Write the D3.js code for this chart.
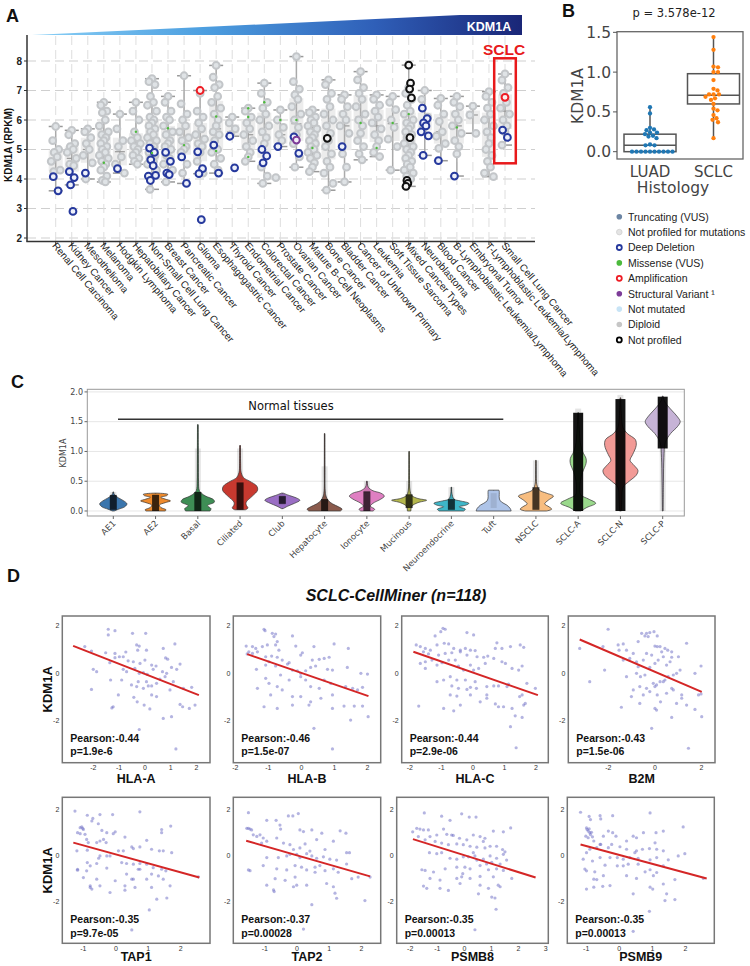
<!DOCTYPE html>
<html><head><meta charset="utf-8">
<script src="https://cdn.jsdelivr.net/npm/d3@7"></script>
<style>
body{margin:0;background:#fff;}
svg{display:block;font-family:"Liberation Sans",Arial,sans-serif;}
.mpl{font-family:"DejaVu Sans",sans-serif;}
</style>
</head><body>
<svg id="fig" width="750" height="966"></svg>
<script>
// ================= DATA =================
// Panel A
const catA = ["Renal Cell Carcinoma","Kidney Cancer","Mesothelioma","Melanoma","Hodgkin Lymphoma","Hepatobiliary Cancer","Non-Small Cell Lung Cancer","Breast Cancer","Pancreatic Cancer","Glioma","Esophagogastric Cancer","Thyroid Cancer","Endometrial Cancer","Colorectal Cancer","Prostate Cancer","Ovarian Cancer","Mature B-Cell Neoplasms","Bone Cancer","Bladder Cancer","Cancer of Unknown Primary","Leukemia","Soft Tissue Sarcoma","Mixed Cancer Types","Neuroblastoma","Blood Cancer","B-Lymphoblastic Leukemia/Lymphoma","Embryonal Tumor","T-Lymphoblastic Leukemia/Lymphoma","Small Cell Lung Cancer"];
const diploidA = [
 [5.78,5.3,5.0,4.9,4.75,4.6,4.3,4.25],
 [5.65,5.5,5.2,5.1,5.0,4.9,4.7,4.5,4.45],
 [5.7,5.6,5.4,5.2,5.0,4.8,4.55,4.0],
 [6.6,6.5,6.3,6.25,6.0,5.8,5.6,5.5,5.4,5.3,5.2,5.1,5.0,4.9,4.8,4.7,4.6,4.5,4.4,4.3,4.1,3.95,3.9],
 [6.2,5.7,5.3,5.1,4.75,4.5,4.2],
 [6.6,6.3,6.0,5.6,5.4,5.3,5.2,5.1,5.0,4.9,4.8,4.7,4.6,4.5],
 [7.4,7.3,7.2,6.8,6.6,6.5,6.3,6.1,6.0,5.9,5.8,5.7,5.6,5.5,5.4,5.3,5.2,5.1,5.0,4.9,4.8,4.7,4.6,4.5,4.3,3.65],
 [6.8,6.6,6.3,6.1,6.0,5.8,5.6,5.5,5.3,5.2,5.1,5.0,4.8,4.7,4.5,4.3,3.9],
 [7.5,6.55,6.2,6.0,5.8,5.6,5.4,5.3,5.1,5.0,4.9,4.5,4.2],
 [6.9,6.3,6.1,5.9,5.7,5.5,5.35,5.2,5.1,4.9,4.6,4.2],
 [7.85,7.45,7.2,7.1,6.8,6.6,6.4,6.2,6.0,5.8,5.6,5.5,5.3,5.0,4.9,4.7,4.5,4.3],
 [6.1,5.9,5.7,5.5],
 [6.4,6.3,6.1,5.9,5.7,5.5,5.3,5.1,4.9,4.75,4.6],
 [7.25,6.9,6.6,6.4,6.2,6.0,5.8,5.6,5.4,5.2,4.4,4.1,3.85],
 [6.34,6.0,5.75,5.5,5.3,4.05],
 [8.15,7.3,7.05,6.85,6.7,6.45,6.2,6.0,5.75,5.5,5.2,4.75,4.4],
 [6.34,6.25,6.1,6.0,5.9,5.8,5.7,5.6,5.5,5.4,5.3,5.2,5.1,5.0,4.9,4.8,4.7,4.55,4.4,4.25],
 [7.36,7.2,6.9,6.7,6.45,6.2,6.0,5.8,5.55,5.3,5.1,4.85,4.6,4.4,4.2,3.85,3.62],
 [6.85,6.7,6.45,6.2,6.0,5.8,5.55,4.85,4.4,3.9],
 [7.64,7.36,7.1,6.9,6.7,6.45,6.2,6.0,5.8,5.55,5.3,5.1,4.85,4.65],
 [6.85,6.7,6.5,6.3,6.1,5.9,5.7,5.5,5.3,5.1,4.9,4.76],
 [6.8,6.6,6.35,6.0,5.75,5.35,5.1,4.3],
 [7.1,6.9,6.7,6.5,6.3,6.2,6.0,5.9,5.8,5.7,5.6,5.5,5.4,5.3,5.2,5.1,5.0,4.9,4.8,4.7,4.6,4.5,4.4,4.3,4.2,4.1,4.0],
 [7.0,6.7,6.1,5.7],
 [6.73,6.5,6.2,5.95,5.6,5.45,5.2,5.04],
 [6.8,6.6,6.45,6.2,6.0,5.8,5.55,5.3,5.1,4.85],
 [6.47,6.17,5.55],
 [6.96,6.8,6.6,6.4,6.2,6.0,5.8,5.6,5.4,5.2,5.0,4.8,4.6,4.4,4.2,4.08],
 [7.56,7.35,7.1,6.9,6.6,6.4,6.2,6.0,5.8,5.6,5.15]
];
const deepDelA = [[4.08,3.6],[4.25,4.05,3.8,2.9],[4.2],[],[4.35],[],[5.05,4.9,4.65,4.45,4.1,4.12,3.95],[4.9,4.6,4.2,4.15],[4.75,3.85],[4.92,4.35,4.18,2.62],[5.15,4.2],[5.45,4.38],[],[5.0,4.78,4.55],[5.1],[5.43,4.87],[],[],[5.1],[],[],[],[],[6.4,6.05,5.9,5.8,5.6,5.46,4.8],[4.62],[4.1],[],[],[5.66,5.41]];
const ampA = [["Glioma",7.0],["Small Cell Lung Cancer",6.77]];
const structA = [["Ovarian Cancer",5.32]];
const notProfA = [["Mixed Cancer Types",7.86],["Mixed Cancer Types",7.25],["Mixed Cancer Types",7.05],["Mixed Cancer Types",6.75],["Mixed Cancer Types",5.4],["Mixed Cancer Types",3.95],["Mixed Cancer Types",3.85],["Mixed Cancer Types",3.75],["Bone Cancer",5.38]];
const missenseA = [["Melanoma",4.55],["Hepatobiliary Cancer",5.6],["Non-Small Cell Lung Cancer",4.88],["Breast Cancer",5.72],["Pancreatic Cancer",5.15],["Esophagogastric Cancer",6.12],["Esophagogastric Cancer",4.95],["Endometrial Cancer",6.4],["Endometrial Cancer",6.1],["Endometrial Cancer",4.75],["Colorectal Cancer",6.6],["Prostate Cancer",6.0],["Ovarian Cancer",6.0],["Mature B-Cell Neoplasms",5.05],["Cancer of Unknown Primary",5.9],["Leukemia",5.05],["Soft Tissue Sarcoma",5.9],["Mixed Cancer Types",6.2],["B-Lymphoblastic Leukemia/Lymphoma",5.75]];
const yTicksA = [2,3,4,5,6,7,8];

// Panel B
const histB = ["LUAD","SCLC"];
const luadB = [0.56,0.48,0.30,0.28,0.27,0.24,0.24,0.22,0.20,0.19,0.17,0.09,0.08,0.08,0,0,0,0,0,0,0,0,0,0];
const sclcB = [1.44,1.28,1.07,1.06,1.0,1.0,0.9,0.79,0.77,0.72,0.72,0.72,0.69,0.67,0.65,0.6,0.54,0.52,0.46,0.42,0.4,0.37,0.17];
// q1, median, q3, whisker low, whisker high
const boxB = [[0,0.08,0.22,0,0.55],[0.6,0.71,0.98,0.16,1.43]];
const yTicksB = [0.0,0.5,1.0,1.5];

// Legend
const legendLabels = ["Truncating (VUS)","Not profiled for mutations","Deep Deletion","Missense (VUS)","Amplification","Structural Variant \u00b9","Not mutated","Diploid","Not profiled"];
const legendColors = ["#6c85a3","#e4e4e4","#26399d","#4cba3c","#ee1c24","#7d3c98","#c8e4f6","#c6c6c6","#000000"];

// Panel C
const catC = ["AE1","AE2","Basal","Ciliated","Club","Hepatocyte","Ionocyte","Mucinous","Neuroendocrine","Tuft","NSCLC","SCLC-A","SCLC-N","SCLC-P"];
const colorC = ["#3b76ad","#ee8a2c","#3e8e55","#c8392f","#9a6ec4","#8a5a4c","#df7fc2","#b5b84d","#3eb6c8","#aec4e8","#f7bd80","#9ad98c","#f29a96","#c6b3d6"];
// density profiles: [KDM1A value, relative density]
const densC = [
 [[0,0.05],[0.03,0.3],[0.07,0.65],[0.12,0.78],[0.17,0.6],[0.22,0.3],[0.26,0.12],[0.29,0.04],[0.32,0.02]],
 [[0,0.55],[0.02,0.6],[0.06,0.3],[0.1,0.22],[0.14,0.55],[0.17,0.85],[0.2,0.55],[0.23,0.3],[0.26,0.65],[0.28,0.7],[0.3,0.1]],
 [[0,0.7],[0.04,0.75],[0.09,0.55],[0.15,0.95],[0.19,0.9],[0.25,0.45],[0.3,0.2],[0.35,0.08],[0.5,0.04],[0.8,0.03],[1.1,0.025],[1.45,0.02]],
 [[0.02,0.3],[0.05,0.45],[0.1,0.35],[0.15,0.35],[0.25,0.7],[0.35,1.0],[0.42,0.95],[0.5,0.55],[0.56,0.2],[0.65,0.06],[0.8,0.03],[1.1,0.02]],
 [[0.04,0.05],[0.08,0.3],[0.13,0.7],[0.18,1.0],[0.22,0.8],[0.26,0.4],[0.3,0.05]],
 [[0,0.9],[0.03,1.0],[0.07,0.8],[0.12,0.45],[0.18,0.2],[0.25,0.08],[0.35,0.03],[0.7,0.02],[1.3,0.015]],
 [[0,0.35],[0.03,0.45],[0.08,0.2],[0.13,0.35],[0.2,0.8],[0.25,1.0],[0.3,0.8],[0.34,0.35],[0.4,0.08],[0.5,0.02]],
 [[0,0.1],[0.08,0.15],[0.14,0.5],[0.18,1.0],[0.21,0.5],[0.26,0.15],[0.35,0.05],[0.6,0.02],[1.0,0.015]],
 [[0,0.7],[0.03,0.8],[0.07,0.45],[0.1,0.85],[0.13,1.0],[0.17,0.5],[0.2,0.15],[0.3,0.03],[0.4,0.015]],
 [[0,1.0],[0.04,0.95],[0.1,0.75],[0.15,0.45],[0.2,0.33],[0.28,0.32],[0.33,0.32],[0.35,0.3]],
 [[0,0.6],[0.03,0.9],[0.07,0.75],[0.12,0.5],[0.18,0.7],[0.25,1.0],[0.3,0.6],[0.35,0.2],[0.45,0.05],[0.85,0.015]],
 [[0,0.15],[0.06,0.5],[0.13,1.0],[0.2,0.6],[0.27,0.15],[0.35,0.1],[0.5,0.12],[0.65,0.25],[0.8,0.45],[0.88,0.45],[1.0,0.25],[1.15,0.12],[1.3,0.08],[1.45,0.05],[1.65,0.02]],
 [[0,0.05],[0.2,0.08],[0.4,0.15],[0.5,0.5],[0.6,0.9],[0.68,1.0],[0.76,0.8],[0.85,0.55],[0.95,0.7],[1.1,0.9],[1.2,0.85],[1.3,0.4],[1.4,0.15],[1.6,0.06],[1.9,0.02]],
 [[0,0.02],[0.5,0.04],[0.9,0.07],[1.15,0.15],[1.3,0.45],[1.42,0.85],[1.5,1.0],[1.58,0.85],[1.68,0.55],[1.78,0.25],[1.86,0.08],[1.93,0.02]]
];
// ranges of the dense and sparse single-cell points
const stripDenseC = [[0.02,0.27],[0.0,0.27],[0.0,0.32],[0.02,0.48],[0.12,0.25],[0.0,0.2],[0.0,0.33],[0.05,0.28],[0.02,0.2],null,[0.02,0.4],[0.0,1.65],[0.0,1.88],[1.05,1.92]];
const stripSparseC = [[0,0.32],[0,0.3],[0.35,1.05],[0.5,1.05],[0.1,0.3],[0.2,0.75],[0.3,0.5],[0.28,0.5],[0.2,0.4],[0.05,0.3],[0.4,0.85],[1.65,1.72],[1.88,1.95],[0,1.05]];
const yTicksC = [0.0,0.5,1.0,1.5,2.0];

// Panel D
const geneD = ["HLA-A","HLA-B","HLA-C","B2M","TAP1","TAP2","PSMB8","PSMB9"];
const pearsonD = ["-0.44","-0.46","-0.44","-0.43","-0.35","-0.37","-0.35","-0.35"];
const pvalD = ["1.9e-6","1.5e-07","2.9e-06","1.5e-06","9.7e-05","0.00028","0.00013","0.00013"];
const xDomD = [[-3.2,2.52],[-2.06,2.4],[-2.26,2.39],[-3.72,2.58],[-1.65,2.9],[-1.98,2.6],[-2.5,3.1],[-1.57,2.87]];
const yDomD = [[-3.77,2.42],[-3.8,2.55]];
const xTicksD = [[-2,-1,0,1,2],[-2,-1,0,1,2],[-2,-1,0,1,2],[-2,0,2],[-1,0,1,2],[-1,0,1,2],[-2,-1,0,1,2,3],[-1,0,1,2]];
const yTicksD = [-2,0,2];
// fitted line [x0,y0,x1,y1]
const fitD = [[-2.78,1.16,2.09,-0.92],[-1.64,0.81,2.03,-0.96],[-1.89,0.91,2.06,-0.92],[-3.23,1.43,2.01,-0.78],[-1.31,0.58,2.57,-0.94],[-1.58,0.66,2.27,-0.89],[-1.9,0.73,2.63,-0.94],[-1.17,0.5,2.64,-0.98]];
const hlaA = [[-1.42,1.86],[-1.16,1.80],[-1.42,1.62],[-0.48,1.69],[0.03,1.69],[-2.33,1.13],[-2.07,0.94],[-1.52,0.87],[-1.16,0.84],[-0.74,0.90],[-0.99,0.70],[-0.32,1.20],[-0.22,1.15],[-0.28,0.98],[0.06,0.98],[0.71,1.05],[1.16,1.24],[0.80,0.65],[0.88,0.60],[1.36,0.39],[0.26,0.35],[0.43,0.31],[0,0.56],[-0.19,0.42],[-0.45,0.49],[-0.65,0.53],[-0.84,0.70],[-1.16,0.66],[-1.36,0.45],[-0.84,0.17],[-0.71,0.07],[-0.39,0.21],[-0.22,0],[-0.06,0.03],[0.09,-0.04],[0.32,0.17],[0.68,0.07],[0.84,0],[1.23,0.17],[1.03,0.25],[-1.87,0.07],[-2.0,0.17],[-2.07,-0.68],[-1.03,-0.91],[-0.32,-0.56],[-0.26,-0.35],[0.06,-0.35],[0.26,-0.53],[0.45,-0.42],[-0.06,-0.63],[0.13,-0.53],[0.45,-0.98],[0.97,-0.70],[1.10,-0.35],[1.49,-0.63],[1.81,-0.59],[-1.33,-0.28],[-1.23,-1.41],[-1.28,-1.46],[-0.43,-1.01],[-0.30,-1.20],[-0.03,-1.34],[0.26,-0.91],[0.19,-1.50],[0.71,-1.90],[1.03,-1.83],[1.36,-1.31],[1.72,-1.48],[1.94,-1.34],[1.46,-1.41],[-0.22,-2.37],[1.20,-3.19],[-0.52,-0.49],[-0.90,-0.28],[0.58,-0.24],[0.78,-0.14]];
const hlaB = [[-1.13,1.86],[-1.10,1.80],[-0.88,1.69],[-0.78,1.66],[-0.83,1.55],[-0.27,1.58],[-1.67,1.15],[-1.48,1.13],[-1.38,1.05],[-1.18,1.13],[-1.03,1.20],[-0.78,1.20],[-0.68,0.98],[-0.73,1.34],[-0.17,1.15],[0.38,1.13],[0.99,1.24],[1.42,1.05],[-1.33,0.91],[-1.08,0.70],[-0.90,0.73],[-0.73,0.68],[-0.58,0.56],[-0.37,0.45],[-0.02,0.77],[0.03,0.87],[0.33,0.56],[0.54,0.59],[0.69,0.63],[0.84,0.68],[-1.64,0.82],[-1.59,0.91],[-1.48,0.84],[-1.36,0.17],[-1.08,0.35],[-0.98,0.49],[-0.78,0.31],[-0.42,0.39],[-0.27,0.14],[-0.12,0.11],[-0.02,0],[0.13,0.11],[0.28,0.25],[0.43,0.31],[0.79,0.17],[0.94,0.14],[1.39,0.25],[1.80,0],[2.0,-0.03],[-1.08,-0.21],[-0.98,-0.42],[-0.73,-0.56],[-0.63,-0.07],[-0.37,-0.28],[-0.02,-0.14],[0.13,-0.28],[0.28,-0.56],[0.54,-0.63],[0.69,-0.28],[0.89,-0.42],[1.34,-0.56],[1.55,-0.63],[1.70,-0.70],[1.85,-0.59],[-0.93,-0.91],[-0.58,-0.70],[-0.27,-0.98],[-0.02,-0.98],[0.28,-1.20],[0.59,-1.05],[0.94,-0.91],[1.29,-1.38],[1.60,-1.38],[1.85,-1.38],[-1.13,-1.41],[-0.73,-1.48],[-0.27,-1.34],[0.23,-1.34],[0.94,-1.48],[1.49,-1.97],[2.02,-1.83],[0.38,-2.32],[0.94,-3.19],[-1.33,-0.63]];
const hlaC = [[-0.95,1.90],[-0.88,1.86],[-1.02,1.76],[-1.20,1.58],[-0.19,1.72],[0.02,1.62],[-1.80,1.20],[-1.67,1.13],[-1.51,1.05],[-1.35,0.98],[-1.14,1.20],[-0.91,1.27],[-0.77,1.24],[-0.61,1.05],[-0.40,0.98],[-0.24,1.05],[-0.08,0.98],[0.07,0.96],[-1.57,0.91],[-1.41,0.82],[-1.09,0.77],[-0.88,0.84],[-0.67,0.87],[-0.40,0.91],[-0.19,0.77],[0.13,0.70],[0.34,0.68],[0.47,0.73],[0.76,1.29],[0.71,1.05],[0.92,1.05],[1.19,1.13],[1.50,1.20],[1.61,1.10],[-1.67,0.42],[-1.51,0.21],[-1.51,0.49],[-1.30,0.56],[-1.14,0.35],[-0.98,0.45],[-0.77,0.56],[-0.56,0.56],[-0.46,0.31],[-0.30,0.14],[-0.08,0.35],[0.02,0.14],[0.18,0.21],[0.39,0.42],[0.66,0.63],[0.92,0.49],[1.03,0.42],[1.24,0.21],[1.45,0.14],[1.56,0.31],[-1.14,-0.35],[-0.93,-0.28],[-0.72,-0.14],[-0.51,-0.28],[-0.24,-0.28],[0.07,-0.35],[0.11,-0.63],[-0.08,-0.59],[-0.19,-0.68],[-0.67,-0.53],[-0.46,-0.63],[0.44,-0.56],[0.66,-0.53],[0.81,-0.53],[1.08,-0.56],[1.13,-0.45],[1.71,-0.42],[1.98,-0.63],[1.56,-0.91],[1.48,-0.98],[-0.72,-0.91],[-0.51,-0.96],[-0.40,-1.34],[-0.08,-0.91],[0.23,-1.20],[0.44,-1.05],[0.71,-1.29],[0.81,-1.41],[0.97,-1.41],[1.24,-1.48],[1.61,-1.34],[1.66,-1.27],[-1.72,-1.38],[-0.93,-1.48],[-0.61,-1.58],[1.34,-1.79],[1.56,-1.86],[1.19,-2.25],[1.37,-3.14],[0.44,-0.91]];
const b2m = [[-2.01,1.86],[-3.23,1.05],[-2.80,-0.35],[-2.16,0.14],[-2.23,1.13],[-1.58,1.20],[-1.36,1.24],[-1.54,0.98],[-1.22,0.98],[-0.93,0.84],[-0.72,1.34],[-0.57,1.69],[-0.43,1.58],[-0.36,1.69],[-0.22,1.72],[-0.04,1.76],[-0.29,1.55],[0.10,1.58],[-1.36,0.56],[-1.08,0.63],[-0.79,0.49],[-0.50,0.56],[-0.36,0.84],[-0.14,0.77],[0,1.15],[0.10,1.13],[0.22,1.13],[0.29,0.91],[0.43,1.05],[0.55,0.98],[0.72,0.91],[0.72,0.68],[1.36,1.27],[0.36,0.70],[0.14,0.56],[0,0.42],[-0.22,0.25],[-0.43,-0.07],[-0.62,-0.14],[-0.79,0],[-1.22,-0.14],[-0.93,-0.70],[-0.65,-0.56],[-0.36,-0.63],[-0.07,-0.42],[0,-0.56],[0.22,-0.35],[0.43,-0.28],[0.57,-0.14],[0.79,-0.07],[0.93,0],[1.08,0.14],[1.72,0],[1.98,0.31],[-1.01,-0.98],[-0.50,-0.91],[-0.22,-0.77],[0.07,-0.49],[0.10,-0.91],[0.24,-1.20],[0.36,-0.35],[0.50,-0.84],[0.72,-0.63],[0.79,-0.70],[0.93,-1.27],[1.15,-1.05],[1.15,-0.91],[1.36,-1.34],[1.87,-0.91],[1.98,-0.87],[2.01,-1.83],[1.72,-1.52],[-1.44,-1.43],[-0.65,-1.27],[0,-1.48],[0.07,-1.55],[0.72,-1.86],[-0.14,-2.32],[1.44,-3.16],[0.50,0.35],[0.65,0.49],[1.01,0.70],[-0.72,0.28]];
const tap1 = [[-1.26,1.95],[-0.88,1.77],[-0.71,1.63],[-0.49,1.80],[-0.10,1.80],[0.74,1.92],[-0.74,1.52],[-0.54,1.40],[-1.10,1.23],[-1.05,1.26],[-1.02,1.20],[-1.0,1.15],[-1.18,1.01],[-1.10,0.97],[-0.95,0.94],[-0.43,1.11],[-0.28,1.01],[-0.08,0.97],[-0.02,1.05],[-0.38,0.72],[-0.49,0.65],[-0.90,0.72],[-0.85,0.58],[-0.59,0.58],[-0.30,0.58],[0.28,0.82],[0.95,0.68],[1.41,1.15],[1.41,1.01],[1.69,1.30],[-1.20,0.22],[-0.88,0.25],[-0.49,0],[-0.53,-0.10],[-0.28,0],[-0.18,0],[0.08,0.22],[0.23,0.22],[0.49,0.39],[0.54,0.32],[0.74,0.39],[1.10,0.29],[1.34,0.22],[1.46,0.22],[1.72,0.14],[-0.88,-0.29],[-0.79,-0.43],[-0.59,-0.33],[-0.28,-0.53],[-1.18,-0.62],[-0.90,-0.65],[0.18,-0.29],[0.33,-0.33],[0.54,-0.36],[0.74,-0.33],[0.95,-0.36],[1.15,-0.51],[1.41,-0.58],[1.54,-0.65],[0.74,-0.58],[0.33,-0.79],[0.49,-1.01],[0.95,-1.01],[1.10,-0.79],[1.31,-0.87],[1.46,-1.01],[-1.0,-0.94],[-0.59,-1.01],[-0.79,-1.30],[-0.79,-1.37],[-0.74,-1.44],[-0.49,-1.30],[0.28,-1.30],[0.28,-1.49],[0.59,-1.37],[1.10,-1.37],[1.67,-1.30],[0.54,-1.01],[-0.18,-1.59],[-0.02,-1.08],[1.26,-1.88],[1.03,-2.35],[1.57,-1.83],[0.49,-3.22],[2.54,-0.91],[-1.18,-0.58],[0.69,-0.58]];
const tap2 = [[-1.51,1.88],[-1.56,1.20],[-1.51,1.20],[-1.46,1.17],[-1.41,1.13],[-1.36,0.92],[-1.25,0.85],[-1.15,0.92],[-1.10,0.56],[-0.94,1.55],[-0.65,1.55],[-0.53,1.34],[-0.51,1.17],[-0.27,1.74],[-0.13,1.74],[0.04,1.84],[0.09,1.13],[0.20,1.06],[0.46,1.13],[0.77,0.99],[1.34,1.09],[1.52,0.99],[-1.05,0.78],[-0.94,0.64],[-0.63,0.78],[-0.42,0.56],[-0.22,0.49],[-0.11,0.28],[0.09,0.35],[0.25,0.52],[0.40,0.21],[0.61,0.71],[0.87,0.28],[1.13,0.64],[1.54,0.14],[1.63,0.14],[-0.94,-0.07],[-0.58,-0.07],[-0.32,0],[-0.22,0.07],[-0.01,0.07],[0.09,-0.07],[0.30,0.10],[0.46,0],[0.61,-0.10],[0.82,-0.04],[1.02,-0.14],[1.23,-0.18],[1.54,-0.35],[-1.46,-0.64],[-1.05,-0.42],[-0.63,-0.56],[-0.32,-0.61],[-0.06,-0.42],[0.14,-0.49],[0.30,-0.61],[0.56,-0.49],[0.71,-0.42],[0.87,-0.64],[1.13,-0.56],[1.28,-0.71],[-1.51,-0.61],[-0.68,-0.99],[-0.06,-0.92],[-0.01,-1.27],[-0.11,-1.34],[0.30,-1.27],[0.56,-0.71],[-0.94,-1.27],[-0.73,-1.48],[-0.71,-1.55],[-0.37,-1.06],[0.92,-1.20],[1.13,-1.34],[1.18,-1.62],[1.23,-1.84],[1.70,-0.99],[1.90,-0.92],[2.11,-1.94],[2.27,-0.92],[0.20,-3.18],[0.46,-2.12]];
const psmb8 = [[-1.48,1.87],[-0.84,1.73],[-0.53,1.55],[-0.10,1.83],[0.18,1.69],[0.43,1.69],[-1.91,1.05],[-1.76,1.20],[-1.64,1.17],[-1.51,1.13],[-1.33,1.13],[-1.02,0.91],[-0.77,1.17],[-0.65,0.94],[-0.47,0.91],[-0.41,0.89],[-0.18,0.77],[0.09,0.70],[0.33,0.91],[0.58,0.84],[0.76,0.77],[1.07,1.08],[1.44,1.05],[1.71,1.22],[-1.27,0.84],[-1.70,0.84],[-1.45,0.70],[-1.08,0.63],[-0.84,0.56],[-0.59,0.49],[-0.28,0.52],[-0.04,0.49],[0.21,0.42],[0.46,0.38],[0.70,0.63],[0.76,0.35],[0.95,0.42],[1.19,0.42],[1.41,0.28],[1.50,0.18],[-1.29,0.14],[-1.02,0.10],[-0.84,0.14],[-0.53,-0.10],[-0.28,-0.14],[-0.04,-0.04],[0.15,-0.04],[0.39,0],[0.46,-0.18],[0.70,-0.14],[0.95,0],[1.19,-0.10],[1.44,0.07],[0.82,-0.35],[1.01,-0.28],[1.32,-0.35],[1.56,-0.18],[-1.57,-0.60],[-1.45,-0.63],[-1.14,-0.70],[-0.71,-0.56],[-0.28,-0.49],[0.02,-0.49],[0.21,-0.56],[0.58,-0.42],[0.89,-0.60],[1.19,-0.56],[1.44,-0.63],[-1.27,-0.98],[-0.90,-1.05],[-0.28,-0.98],[-0.10,-0.91],[0.21,-0.98],[0.58,-0.89],[1.07,-0.91],[1.25,-1.27],[1.75,-0.98],[-1.51,-1.31],[-1.39,-1.41],[-0.90,-1.41],[-0.59,-1.50],[-0.16,-1.20],[0.58,-1.27],[0.52,-1.65],[0.89,-1.41],[1.32,-1.34],[1.13,-1.83],[1.01,-1.79],[1.17,-2.32],[0.39,-3.21],[-0.06,-0.77],[0.33,0.14]];
const psmb9 = [[-1.17,1.90],[-0.91,1.72],[-0.87,1.58],[-0.58,1.75],[-0.56,1.61],[-0.20,1.75],[0.93,1.87],[-0.99,1.22],[-0.97,1.15],[-0.94,1.08],[-0.91,1.18],[-0.89,1.01],[-0.87,0.93],[-0.84,1.03],[-1.01,0.86],[-0.94,0.79],[-0.81,0.83],[-0.77,0.65],[-0.58,0.50],[-0.48,0.86],[-0.33,1.08],[-0.20,1.01],[-0.10,0.86],[0.22,0.65],[0.42,0.86],[0.52,0.79],[0.73,1.01],[1.11,1.01],[1.33,1.08],[1.93,1.26],[-0.99,0.14],[-0.89,0.29],[-0.68,0.36],[-0.56,0.50],[-0.33,0.36],[-0.23,0.50],[0.02,0.40],[0.22,0.29],[0.47,0.14],[0.52,0.22],[0.70,0.29],[0.91,0.32],[1.08,0.57],[1.13,0.29],[1.33,0.22],[1.78,0],[1.98,0.10],[-1.09,-0.14],[-0.81,-0.22],[-0.58,-0.07],[-0.28,-0.07],[-0.06,-0.07],[0.12,-0.14],[0.32,-0.07],[0.57,-0.11],[0.93,-0.17],[1.13,-0.07],[1.48,-0.17],[-0.74,-0.69],[-0.99,-0.65],[-1.04,-0.57],[-0.77,-1.01],[-0.68,-1.03],[-0.48,-0.86],[-0.06,-0.43],[0.12,-0.43],[0.27,-0.36],[0.57,-0.36],[0.78,-0.69],[0.93,-0.60],[1.13,-0.72],[1.68,-1.03],[-0.99,-1.44],[-0.77,-1.36],[-0.50,-1.32],[-0.28,-1.29],[0.22,-0.86],[0.52,-0.98],[0.93,-1.36],[1.01,-1.44],[1.33,-1.22],[1.43,-1.65],[0.42,-1.65],[1.38,-1.94],[1.68,-1.90],[0.91,-2.41],[0.42,-3.28],[2.54,-0.98],[-0.43,-0.40],[1.03,-0.86],[1.33,-0.43]];
const pointsD = [hlaA,hlaB,hlaC,b2m,tap1,tap2,psmb8,psmb9];

// ================= DRAW =================
const svg = d3.select("#fig");
const defs = svg.append("defs");

function label(t,x,y,size){ svg.append("text").attr("x",x).attr("y",y).attr("font-size",size).attr("font-weight","bold").attr("fill","#111").text(t); }

// ---------- Panel A ----------
label("A",6,22,18);
const grad = defs.append("linearGradient").attr("id","kg").attr("x1","0").attr("x2","1").attr("y1","0").attr("y2","0");
[["0","#8ad0f6"],["0.35","#4d9fe0"],["0.7","#2f5fb8"],["1","#1a2677"]].forEach(s=>grad.append("stop").attr("offset",s[0]).attr("stop-color",s[1]));
svg.append("path").attr("d","M32,35L522,35L522,15L460,15Z").attr("fill","url(#kg)");
svg.append("text").attr("x",489).attr("y",31).attr("text-anchor","middle").attr("font-size",12.5).attr("font-weight","bold").attr("fill","#fff").text("KDM1A");

const xA = d3.scalePoint().domain(catA).range([55.7,505]);
const yA = d3.scaleLinear().domain([2,8]).range([238,61]);
const gA = svg.append("g");
gA.selectAll(".hg").data(yTicksA).join("line").attr("x1",27).attr("x2",535).attr("y1",d=>yA(d)).attr("y2",d=>yA(d))
  .attr("stroke","#cfcfcf").attr("stroke-dasharray","9,5").attr("stroke-width",1);
gA.selectAll(".vg").data(catA).join("line").attr("x1",d=>xA(d)).attr("x2",d=>xA(d)).attr("y1",36).attr("y2",241)
  .attr("stroke","#dedede").attr("stroke-dasharray","9,5").attr("stroke-width",1);
catA.forEach((c,i)=>{
  const vals = diploidA[i].concat(deepDelA[i], ampA.filter(d=>d[0]===c).map(d=>d[1]), structA.filter(d=>d[0]===c).map(d=>d[1]), notProfA.filter(d=>d[0]===c).map(d=>d[1])).sort(d3.ascending);
  const q1=d3.quantile(vals,0.25), md=d3.quantile(vals,0.5), q3=d3.quantile(vals,0.75), iqr=q3-q1;
  const lo=d3.min(vals.filter(v=>v>=q1-1.5*iqr)), hi=d3.max(vals.filter(v=>v<=q3+1.5*iqr));
  const x=xA(c);
  gA.append("rect").attr("x",x-7).attr("width",14).attr("y",yA(q3)).attr("height",yA(q1)-yA(q3)).attr("fill","#ececec");
  gA.append("line").attr("x1",x).attr("x2",x).attr("y1",yA(hi)).attr("y2",yA(lo)).attr("stroke","#aaa").attr("stroke-width",1.5);
  [lo,hi].forEach(v=>gA.append("line").attr("x1",x-7).attr("x2",x+7).attr("y1",yA(v)).attr("y2",yA(v)).attr("stroke","#999").attr("stroke-width",1.5));
  gA.append("line").attr("x1",x-5).attr("x2",x+5).attr("y1",yA(md)).attr("y2",yA(md)).attr("stroke","#999").attr("stroke-width",1.2);
});
const jit = [0,-3,3,-1.5,1.5,-4.5,4.5,-2,2];
function ring(g,x,y,col,fill){ g.append("circle").attr("cx",x).attr("cy",y).attr("r",3.4).attr("fill",fill).attr("stroke",col).attr("stroke-width",2); }
catA.forEach((c,i)=>{
  diploidA[i].forEach((v,j)=>ring(gA,xA(c)+jit[j%9],yA(v),"#c3c6c9","#dfe3e6"));
});
notProfA.forEach((d,j)=>ring(gA,xA(d[0])+jit[(j*2)%9]*0.6,yA(d[1]),"#111","#f5f5f5"));
catA.forEach((c,i)=>{
  deepDelA[i].forEach((v,j)=>ring(gA,xA(c)+jit[(j+1)%9]*0.8,yA(v),"#26399d","#eef1fa"));
});
ampA.forEach(d=>ring(gA,xA(d[0]),yA(d[1]),"#ee1c24","#fdeeee"));
structA.forEach(d=>ring(gA,xA(d[0]),yA(d[1]),"#7d3c98","#f3eef8"));
missenseA.forEach(d=>gA.append("circle").attr("cx",xA(d[0])).attr("cy",yA(d[1])).attr("r",1.2).attr("fill","#4cba3c"));
gA.append("line").attr("x1",27).attr("x2",27).attr("y1",35).attr("y2",241.5).attr("stroke","#333").attr("stroke-width",1.5);
gA.append("line").attr("x1",26.3).attr("x2",535).attr("y1",241.5).attr("y2",241.5).attr("stroke","#333").attr("stroke-width",1.5);
gA.selectAll(".yt").data(yTicksA).join("line").attr("x1",24).attr("x2",27).attr("y1",d=>yA(d)).attr("y2",d=>yA(d)).attr("stroke","#333");
gA.selectAll(".ytl").data(yTicksA).join("text").attr("x",22).attr("y",d=>yA(d)+3.5).attr("text-anchor","end").attr("font-size",10).attr("font-weight","bold").attr("fill","#222").text(d=>d);
gA.selectAll(".xt").data(catA).join("line").attr("x1",d=>xA(d)).attr("x2",d=>xA(d)).attr("y1",241.5).attr("y2",245).attr("stroke","#333");
gA.selectAll(".xtl").data(catA).join("text").attr("transform",d=>`translate(${xA(d)-4},246) rotate(50)`).attr("font-size",10).attr("fill","#222").text(d=>d);
gA.append("text").attr("transform","translate(11.5,145) rotate(-90)").attr("text-anchor","middle").attr("font-size",10).attr("font-weight","bold").attr("fill","#111").text("KDM1A (RPKM)");
gA.append("rect").attr("x",xA("Small Cell Lung Cancer")-10.8).attr("width",21.6).attr("y",58.3).attr("height",105).attr("fill","none").attr("stroke","#e8191b").attr("stroke-width",2.5);
gA.append("text").attr("x",xA("Small Cell Lung Cancer")-1).attr("y",55).attr("text-anchor","middle").attr("font-size",15.5).attr("font-weight","bold").attr("fill","#e8191b").text("SCLC");

// ---------- Panel B ----------
label("B",562,17,18);
const gB = svg.append("g").attr("class","mpl");
const xB = d3.scalePoint().domain(histB).range([650,713.5]);
const yB = d3.scaleLinear().domain([-0.092,1.508]).range([159,31.7]);
gB.append("text").attr("x",674).attr("y",17).attr("text-anchor","middle").attr("font-size",11.5).attr("fill","#222").text("p = 3.578e-12");
gB.append("rect").attr("x",617).attr("y",31.7).attr("width",126).attr("height",127.3).attr("fill","none").attr("stroke","#666").attr("stroke-width",1.3);
gB.selectAll(".t").data(yTicksB).join("line").attr("x1",613).attr("x2",617).attr("y1",d=>yB(d)).attr("y2",d=>yB(d)).attr("stroke","#555");
gB.selectAll(".tl").data(yTicksB).join("text").attr("x",611).attr("y",d=>yB(d)+5.5).attr("text-anchor","end").attr("font-size",15.5).attr("fill","#444").text(d=>d.toFixed(1));
gB.selectAll(".xl").data(histB).join("text").attr("x",d=>xB(d)).attr("y",176.5).attr("text-anchor","middle").attr("font-size",15).attr("fill","#444").text(d=>d);
gB.append("text").attr("x",673).attr("y",193).attr("text-anchor","middle").attr("font-size",15.5).attr("fill","#444").text("Histology");
gB.append("text").attr("transform","translate(583,96) rotate(-90)").attr("text-anchor","middle").attr("font-size",15.5).attr("fill","#444").text("KDM1A");
boxB.forEach((b,i)=>{
  const x=xB(histB[i]), hw=26;
  gB.append("line").attr("x1",x).attr("x2",x).attr("y1",yB(b[4])).attr("y2",yB(b[2])).attr("stroke","#555").attr("stroke-width",1.5);
  gB.append("line").attr("x1",x).attr("x2",x).attr("y1",yB(b[0])).attr("y2",yB(b[3])).attr("stroke","#555").attr("stroke-width",1.5);
  gB.append("rect").attr("x",x-hw).attr("width",hw*2).attr("y",yB(b[2])).attr("height",yB(b[0])-yB(b[2])).attr("fill","none").attr("stroke","#555").attr("stroke-width",1.5);
  gB.append("line").attr("x1",x-hw).attr("x2",x+hw).attr("y1",yB(b[1])).attr("y2",yB(b[1])).attr("stroke","#555").attr("stroke-width",1.5);
});
function swarm(vals,r){
  const placed=[]; const out=new Array(vals.length);
  const order=vals.map((v,i)=>i).sort((a,b)=>vals[b]-vals[a]);
  order.forEach(i=>{
    const py=yB(vals[i]);
    let best=0;
    for(let k=0;k<200;k++){
      const off=(k%2?1:-1)*Math.ceil(k/2)*0.5;
      if(placed.every(p=>Math.hypot(p[0]-off,p[1]-py)>=2*r*0.98)){best=off;break;}
    }
    placed.push([best,py]); out[i]=best;
  });
  return out;
}
[[luadB,"#1f77b4"],[sclcB,"#ff7f0e"]].forEach((s,i)=>{
  const offs=swarm(s[0],2.15);
  s[0].forEach((v,j)=>gB.append("circle").attr("cx",xB(histB[i])+offs[j]).attr("cy",yB(v)).attr("r",2.15).attr("fill",s[1]));
});

// ---------- Legend ----------
const gL = svg.append("g");
legendLabels.forEach((t,i)=>{
  const y=216.7+i*15.4;
  const ringT = (i===2||i===4||i===8);
  gL.append("circle").attr("cx",619.3).attr("cy",y).attr("r",ringT?2.5:2.8).attr("fill",ringT?"#fff":legendColors[i]).attr("stroke",ringT?legendColors[i]:(i===1?"#d0d0d0":"none")).attr("stroke-width",ringT?1.8:0.8);
  gL.append("text").attr("x",628).attr("y",y+3.8).attr("font-size",10.5).attr("fill","#222").text(t);
});

// ---------- Panel C ----------
label("C",11,388,18);
const gC = svg.append("g").attr("class","mpl");
const xC = d3.scalePoint().domain(catC).range([113.3,662.7]);
const yC = d3.scaleLinear().domain([-0.084,2.044]).range([516,389.3]);
const wC = d3.scaleLinear().domain([0,1]).range([0,17.5]);
gC.selectAll(".g").data(yTicksC).join("line").attr("x1",87.3).attr("x2",684.3).attr("y1",d=>yC(d)).attr("y2",d=>yC(d)).attr("stroke","#e6e6e6").attr("stroke-width",1);
gC.append("rect").attr("x",87.3).attr("y",389.3).attr("width",597).attr("height",126.7).attr("fill","none").attr("stroke","#999").attr("stroke-width",1);
gC.selectAll(".t").data(yTicksC).join("line").attr("x1",84.5).attr("x2",87.3).attr("y1",d=>yC(d)).attr("y2",d=>yC(d)).attr("stroke","#666");
gC.selectAll(".tl").data(yTicksC).join("text").attr("x",83).attr("y",d=>yC(d)+2.8).attr("text-anchor","end").attr("font-size",8).attr("fill","#444").text(d=>d.toFixed(1));
gC.append("text").attr("transform","translate(66,453) rotate(-90)").attr("text-anchor","middle").attr("font-size",8).attr("fill","#444").text("KDM1A");
gC.selectAll(".xt").data(catC).join("line").attr("x1",d=>xC(d)).attr("x2",d=>xC(d)).attr("y1",516).attr("y2",519).attr("stroke","#666");
gC.selectAll(".xl").data(catC).join("text").attr("transform",d=>`translate(${xC(d)+3},524) rotate(-45)`).attr("text-anchor","end").attr("font-size",8.5).attr("fill","#444").text(d=>d);
catC.forEach((c,i)=>{
  const x=xC(c), pr=densC[i];
  gC.append("line").attr("x1",x).attr("x2",x).attr("y1",yC(pr[0][0])).attr("y2",yC(pr[pr.length-1][0])).attr("stroke","#333").attr("stroke-width",0.9);
  const a = d3.area().curve(d3.curveCatmullRom.alpha(0.5)).y(d=>yC(d[0])).x0(d=>x-wC(d[1])).x1(d=>x+wC(d[1]));
  gC.append("path").attr("d",a(pr)).attr("fill",colorC[i]).attr("stroke","#333").attr("stroke-width",0.7);
  const sp=stripSparseC[i];
  if(sp) gC.append("rect").attr("x",x-3).attr("width",6).attr("y",yC(sp[1])).attr("height",yC(sp[0])-yC(sp[1])).attr("fill","#333").attr("opacity",0.13);
  const dn=stripDenseC[i];
  const w = i>=11?10:7;
  if(dn) gC.append("rect").attr("x",x-w/2).attr("width",w).attr("y",yC(dn[1])).attr("height",yC(dn[0])-yC(dn[1])).attr("fill","#000").attr("opacity",i>=11?0.92:0.72);
});
gC.append("line").attr("x1",118).attr("x2",503.3).attr("y1",419.3).attr("y2",419.3).attr("stroke","#333").attr("stroke-width",1.5);
gC.append("text").attr("x",291).attr("y",410).attr("text-anchor","middle").attr("font-size",11.5).attr("fill","#111").text("Normal tissues");

// ---------- Panel D ----------
label("D",7,582,18);
svg.append("text").attr("x",396).attr("y",601).attr("text-anchor","middle").attr("font-size",16).attr("font-weight","bold").attr("font-style","italic").attr("fill","#111").text("SCLC-CellMiner (n=118)");
const frameL = [62.3,233.3,401.7,568.3,62.3,233.3,396.7,567.3];
const frameW = [147.7,147.4,146.6,146.7,147.7,147.4,151.6,147];
const frameT = [616,797.3], frameH = [146.7,146];
geneD.forEach((g,i)=>{
  const row = i<4?0:1;
  const L=frameL[i], W=frameW[i], T=frameT[row], H=frameH[row];
  const x = d3.scaleLinear().domain(xDomD[i]).range([L,L+W]);
  const y = d3.scaleLinear().domain(yDomD[row]).range([T+H,T]);
  const gD = svg.append("g");
  gD.selectAll("circle").data(pointsD[i]).join("circle").attr("cx",d=>x(d[0])).attr("cy",d=>y(d[1])).attr("r",1.6).attr("fill","#6a6ac4").attr("fill-opacity",0.5);
  const f=fitD[i];
  gD.append("line").attr("x1",x(f[0])).attr("y1",y(f[1])).attr("x2",x(f[2])).attr("y2",y(f[3])).attr("stroke","#d42626").attr("stroke-width",2);
  gD.append("rect").attr("x",L).attr("y",T).attr("width",W).attr("height",H).attr("fill","none").attr("stroke","#777").attr("stroke-width",1.5);
  gD.selectAll(".xt").data(xTicksD[i]).join("text").attr("x",d=>x(d)).attr("y",T+H+7.5).attr("text-anchor","middle").attr("font-size",7).attr("fill","#333").text(d=>d);
  gD.selectAll(".yt").data(yTicksD).join("text").attr("x",L-3).attr("y",d=>y(d)+2.5).attr("text-anchor","end").attr("font-size",7).attr("fill","#333").text(d=>d);
  gD.append("text").attr("x",L+W/2).attr("y",row?961:783).attr("text-anchor","middle").attr("font-size",12.5).attr("font-weight","bold").attr("fill","#111").text(g);
  gD.append("text").attr("x",L+8).attr("y",T+H-(row?20:21)).attr("font-size",10.5).attr("font-weight","bold").attr("fill","#111").text("Pearson:"+pearsonD[i]);
  gD.append("text").attr("x",L+8).attr("y",T+H-(row?6.5:7.7)).attr("font-size",10.5).attr("font-weight","bold").attr("fill","#111").text("p="+pvalD[i]);
  if(i%4===0) gD.append("text").attr("transform",`translate(51.5,${T+H/2}) rotate(-90)`).attr("text-anchor","middle").attr("font-size",13).attr("font-weight","bold").attr("fill","#111").text("KDM1A");
});
</script>
</body></html>
